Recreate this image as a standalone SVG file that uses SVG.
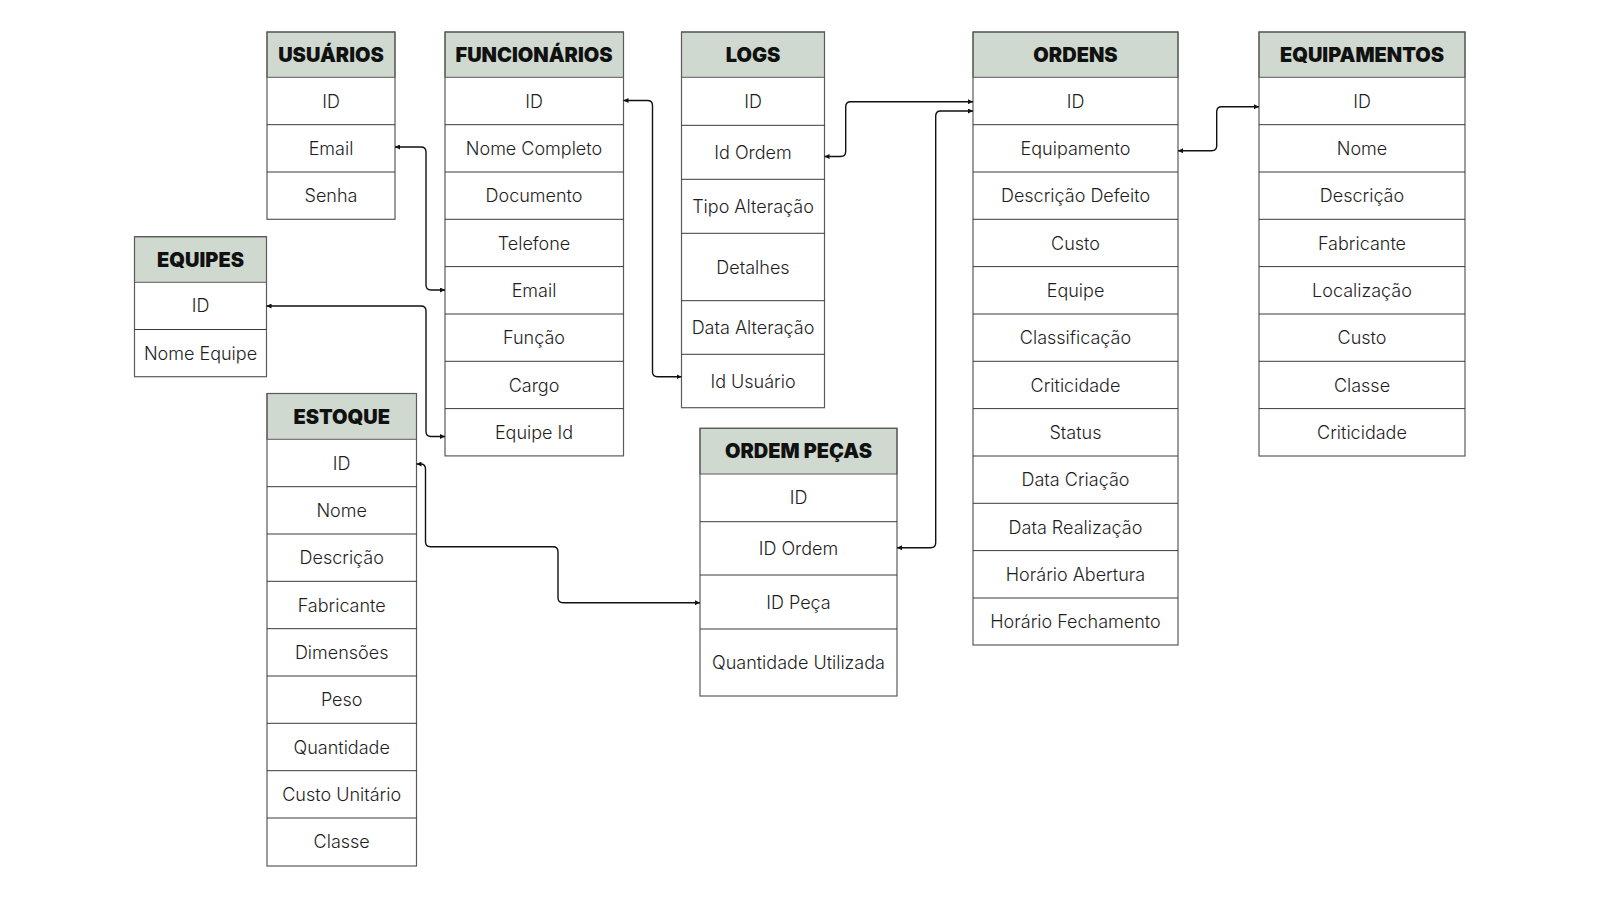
<svg xmlns="http://www.w3.org/2000/svg" width="1600" height="900" viewBox="0 0 1600 900">
<style>
.bg{fill:#ffffff}
.hd{fill:#cfd9cf;stroke:#5a5a5a;stroke-width:1}
.box{fill:none;stroke:#5a5a5a;stroke-width:1.2}
.sep{stroke:#3a3a3a;stroke-width:1}
.ht{font-family:Inter,"Liberation Sans",sans-serif;font-weight:900;font-size:20px;fill:#111;text-anchor:middle}
.t{font-family:Inter,"Liberation Sans",sans-serif;font-weight:300;font-size:18px;fill:#1e1e1e;text-anchor:middle}
.c{fill:none;stroke:#111;stroke-width:1.4;marker-start:url(#ar);marker-end:url(#ar)}
</style>
<defs>
<marker id="ar" viewBox="0 0 6 6" refX="6" refY="3" markerWidth="5" markerHeight="5" markerUnits="userSpaceOnUse" orient="auto-start-reverse">
<path d="M0,0 L6,3 L0,6 z" fill="#111"/>
</marker>
</defs>
<rect class="bg" x="0" y="0" width="1600" height="900"/>

<g id="usuarios">
<rect class="hd" x="267" y="32" width="128" height="45.3"/>
<rect class="box" x="267" y="32" width="128" height="187.3"/>
<line class="sep" x1="267" y1="124.7" x2="395" y2="124.7"/>
<line class="sep" x1="267" y1="172" x2="395" y2="172"/>
<text class="ht" x="331" y="62.3">USUÁRIOS</text>
<text class="t" x="331" y="107.5">ID</text>
<text class="t" x="331" y="154.8">Email</text>
<text class="t" x="331" y="202.2">Senha</text>
</g>

<g id="funcionarios">
<rect class="hd" x="445" y="32" width="178.5" height="45.3"/>
<rect class="box" x="445" y="32" width="178.5" height="423.9"/>
<line class="sep" x1="445" y1="124.7" x2="623.5" y2="124.7"/>
<line class="sep" x1="445" y1="172" x2="623.5" y2="172"/>
<line class="sep" x1="445" y1="219.3" x2="623.5" y2="219.3"/>
<line class="sep" x1="445" y1="266.6" x2="623.5" y2="266.6"/>
<line class="sep" x1="445" y1="314" x2="623.5" y2="314"/>
<line class="sep" x1="445" y1="361.3" x2="623.5" y2="361.3"/>
<line class="sep" x1="445" y1="408.6" x2="623.5" y2="408.6"/>
<text class="ht" x="534" y="62.3">FUNCIONÁRIOS</text>
<text class="t" x="534" y="107.5">ID</text>
<text class="t" x="534" y="154.8">Nome Completo</text>
<text class="t" x="534" y="202.2">Documento</text>
<text class="t" x="534" y="249.5">Telefone</text>
<text class="t" x="534" y="296.8">Email</text>
<text class="t" x="534" y="344.1">Função</text>
<text class="t" x="534" y="391.5">Cargo</text>
<text class="t" x="534" y="438.8">Equipe Id</text>
</g>

<g id="logs">
<rect class="hd" x="681.5" y="32" width="143" height="45.3"/>
<rect class="box" x="681.5" y="32" width="143" height="375.7"/>
<line class="sep" x1="681.5" y1="125.3" x2="824.5" y2="125.3"/>
<line class="sep" x1="681.5" y1="179.3" x2="824.5" y2="179.3"/>
<line class="sep" x1="681.5" y1="233.3" x2="824.5" y2="233.3"/>
<line class="sep" x1="681.5" y1="300.7" x2="824.5" y2="300.7"/>
<line class="sep" x1="681.5" y1="354.3" x2="824.5" y2="354.3"/>
<text class="ht" x="753" y="62.3">LOGS</text>
<text class="t" x="753" y="107.8">ID</text>
<text class="t" x="753" y="158.8">Id Ordem</text>
<text class="t" x="753" y="212.8">Tipo Alteração</text>
<text class="t" x="753" y="273.5">Detalhes</text>
<text class="t" x="753" y="334">Data Alteração</text>
<text class="t" x="753" y="387.5">Id Usuário</text>
</g>

<g id="ordens">
<rect class="hd" x="973" y="32" width="205" height="45.3"/>
<rect class="box" x="973" y="32" width="205" height="613"/>
<line class="sep" x1="973" y1="124.7" x2="1178" y2="124.7"/>
<line class="sep" x1="973" y1="172" x2="1178" y2="172"/>
<line class="sep" x1="973" y1="219.3" x2="1178" y2="219.3"/>
<line class="sep" x1="973" y1="266.6" x2="1178" y2="266.6"/>
<line class="sep" x1="973" y1="314" x2="1178" y2="314"/>
<line class="sep" x1="973" y1="361.3" x2="1178" y2="361.3"/>
<line class="sep" x1="973" y1="408.6" x2="1178" y2="408.6"/>
<line class="sep" x1="973" y1="456" x2="1178" y2="456"/>
<line class="sep" x1="973" y1="503.3" x2="1178" y2="503.3"/>
<line class="sep" x1="973" y1="550.6" x2="1178" y2="550.6"/>
<line class="sep" x1="973" y1="598" x2="1178" y2="598"/>
<text class="ht" x="1075.5" y="62.3">ORDENS</text>
<text class="t" x="1075.5" y="107.5">ID</text>
<text class="t" x="1075.5" y="154.8">Equipamento</text>
<text class="t" x="1075.5" y="202.2">Descrição Defeito</text>
<text class="t" x="1075.5" y="249.5">Custo</text>
<text class="t" x="1075.5" y="296.8">Equipe</text>
<text class="t" x="1075.5" y="344.1">Classificação</text>
<text class="t" x="1075.5" y="391.5">Criticidade</text>
<text class="t" x="1075.5" y="438.8">Status</text>
<text class="t" x="1075.5" y="486.1">Data Criação</text>
<text class="t" x="1075.5" y="533.5">Data Realização</text>
<text class="t" x="1075.5" y="580.8">Horário Abertura</text>
<text class="t" x="1075.5" y="628.1">Horário Fechamento</text>
</g>

<g id="equipamentos">
<rect class="hd" x="1259" y="32" width="206" height="45.3"/>
<rect class="box" x="1259" y="32" width="206" height="424"/>
<line class="sep" x1="1259" y1="124.7" x2="1465" y2="124.7"/>
<line class="sep" x1="1259" y1="172" x2="1465" y2="172"/>
<line class="sep" x1="1259" y1="219.3" x2="1465" y2="219.3"/>
<line class="sep" x1="1259" y1="266.6" x2="1465" y2="266.6"/>
<line class="sep" x1="1259" y1="314" x2="1465" y2="314"/>
<line class="sep" x1="1259" y1="361.3" x2="1465" y2="361.3"/>
<line class="sep" x1="1259" y1="408.6" x2="1465" y2="408.6"/>
<text class="ht" x="1362" y="62.3">EQUIPAMENTOS</text>
<text class="t" x="1362" y="107.5">ID</text>
<text class="t" x="1362" y="154.8">Nome</text>
<text class="t" x="1362" y="202.2">Descrição</text>
<text class="t" x="1362" y="249.5">Fabricante</text>
<text class="t" x="1362" y="296.8">Localização</text>
<text class="t" x="1362" y="344.1">Custo</text>
<text class="t" x="1362" y="391.5">Classe</text>
<text class="t" x="1362" y="438.8">Criticidade</text>
</g>

<g id="equipes">
<rect class="hd" x="134.5" y="236.7" width="132" height="45.6"/>
<rect class="box" x="134.5" y="236.7" width="132" height="140"/>
<line class="sep" x1="134.5" y1="329.5" x2="266.5" y2="329.5"/>
<text class="ht" x="200.5" y="266.8">EQUIPES</text>
<text class="t" x="200.5" y="312.4">ID</text>
<text class="t" x="200.5" y="359.6">Nome Equipe</text>
</g>

<g id="estoque">
<rect class="hd" x="267" y="393.5" width="149.5" height="45.8"/>
<rect class="box" x="267" y="393.5" width="149.5" height="472.5"/>
<line class="sep" x1="267" y1="486.7" x2="416.5" y2="486.7"/>
<line class="sep" x1="267" y1="534" x2="416.5" y2="534"/>
<line class="sep" x1="267" y1="581.3" x2="416.5" y2="581.3"/>
<line class="sep" x1="267" y1="628.7" x2="416.5" y2="628.7"/>
<line class="sep" x1="267" y1="676" x2="416.5" y2="676"/>
<line class="sep" x1="267" y1="723.3" x2="416.5" y2="723.3"/>
<line class="sep" x1="267" y1="770.7" x2="416.5" y2="770.7"/>
<line class="sep" x1="267" y1="818" x2="416.5" y2="818"/>
<text class="ht" x="341.7" y="423.8">ESTOQUE</text>
<text class="t" x="341.7" y="469.5">ID</text>
<text class="t" x="341.7" y="516.8">Nome</text>
<text class="t" x="341.7" y="564.2">Descrição</text>
<text class="t" x="341.7" y="611.5">Fabricante</text>
<text class="t" x="341.7" y="658.8">Dimensões</text>
<text class="t" x="341.7" y="706.2">Peso</text>
<text class="t" x="341.7" y="753.5">Quantidade</text>
<text class="t" x="341.7" y="800.8">Custo Unitário</text>
<text class="t" x="341.7" y="848.2">Classe</text>
</g>

<g id="ordem-pecas">
<rect class="hd" x="700" y="428.3" width="197" height="45.7"/>
<rect class="box" x="700" y="428.3" width="197" height="267.7"/>
<line class="sep" x1="700" y1="521.7" x2="897" y2="521.7"/>
<line class="sep" x1="700" y1="575" x2="897" y2="575"/>
<line class="sep" x1="700" y1="629" x2="897" y2="629"/>
<text class="ht" x="798.5" y="458.3">ORDEM PEÇAS</text>
<text class="t" x="798.5" y="504.4">ID</text>
<text class="t" x="798.5" y="554.8">ID Ordem</text>
<text class="t" x="798.5" y="608.5">ID Peça</text>
<text class="t" x="798.5" y="669">Quantidade Utilizada</text>
</g>

<g id="connectors">
<path class="c" d="M395,147 H421 Q426,147 426,152 V285 Q426,290 431,290 H445"/>
<path class="c" d="M266.5,306 H421 Q426,306 426,311 V431.5 Q426,436.5 431,436.5 H445"/>
<path class="c" d="M623.5,100.5 H647.5 Q652.5,100.5 652.5,105.5 V371.7 Q652.5,376.7 657.5,376.7 H681.5"/>
<path class="c" d="M824.5,156.5 H840.7 Q845.7,156.5 845.7,151.5 V106.7 Q845.7,101.7 850.7,101.7 H973"/>
<path class="c" d="M897,547.7 H930.7 Q935.7,547.7 935.7,542.7 V116 Q935.7,111 940.7,111 H973"/>
<path class="c" d="M1178,150.7 H1211.7 Q1216.7,150.7 1216.7,145.7 V111.7 Q1216.7,106.7 1221.7,106.7 H1259"/>
<path class="c" d="M416.5,464 H420.5 Q425.5,464 425.5,469 V541.7 Q425.5,546.7 430.5,546.7 H553 Q558,546.7 558,551.7 V597.7 Q558,602.7 563,602.7 H700"/>
</g>
</svg>
